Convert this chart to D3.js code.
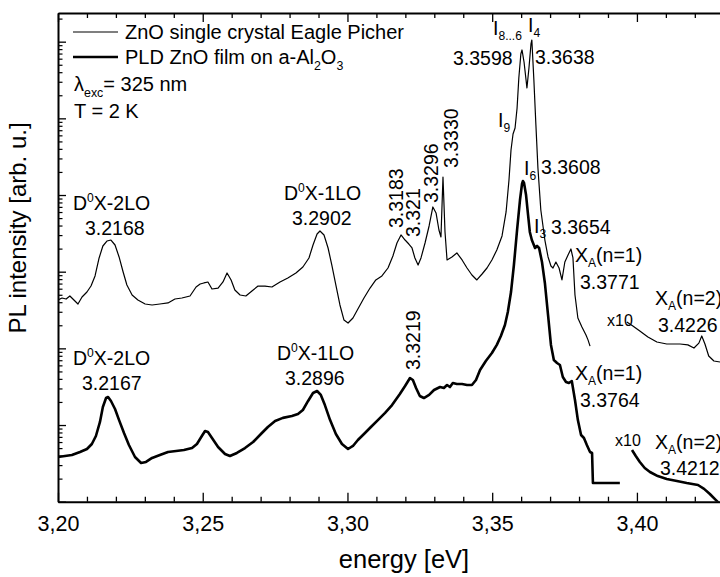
<!DOCTYPE html>
<html><head><meta charset="utf-8">
<script src="https://cdn.jsdelivr.net/npm/d3@7/dist/d3.min.js"></script>
<style>html,body{margin:0;padding:0;background:#fff}svg{display:block}text{font-family:'Liberation Sans',Arial,Helvetica,sans-serif;fill:#000}</style>
</head><body><svg id="c" width="720" height="577"></svg>
<script>
// ---- data: [energy eV, PL intensity arb.u.] ----
const singleCrystal = [[3.2000,428],[3.2014,454],[3.2028,440],[3.2041,482],[3.2069,379],[3.2083,468],[3.2100,543],[3.2114,650],[3.2128,879],[3.2142,1510],[3.2155,2163],[3.2169,2512],[3.2183,2588],[3.2197,2229],[3.2211,1556],[3.2225,991],[3.2238,670],[3.2256,497],[3.2276,428],[3.2301,379],[3.2325,368],[3.2352,379],[3.2380,391],[3.2404,440],[3.2428,454],[3.2456,482],[3.2477,631],[3.2491,690],[3.2504,713],[3.2518,734],[3.2532,594],[3.2553,612],[3.2570,734],[3.2584,962],[3.2598,780],[3.2611,577],[3.2629,497],[3.2649,482],[3.2670,560],[3.2691,650],[3.2715,650],[3.2739,631],[3.2767,734],[3.2794,828],[3.2822,962],[3.2846,1151],[3.2867,1510],[3.2881,2229],[3.2895,3105],[3.2905,3396],[3.2919,3013],[3.2933,2037],[3.2946,1222],[3.2960,670],[3.2974,368],[3.2988,234],[3.3002,214],[3.3019,249],[3.3036,326],[3.3057,454],[3.3078,612],[3.3098,780],[3.3119,879],[3.3140,1117],[3.3157,1603],[3.3171,2366],[3.3185,3013],[3.3199,2588],[3.3212,2296],[3.3223,2037],[3.3233,1510],[3.3244,1222],[3.3254,1510],[3.3268,2366],[3.3282,3945],[3.3295,6982],[3.3306,5834],[3.3316,3499],[3.3323,2834],[3.3330,17180],[3.3337,3296],[3.3344,1422],[3.3361,1556],[3.3378,1754],[3.3396,1422],[3.3413,1117],[3.3430,906],[3.3447,780],[3.3465,933],[3.3482,1117],[3.3499,1422],[3.3516,1919],[3.3534,2924],[3.3548,6012],[3.3558,15700],[3.3565,38640],[3.3572,62520],[3.3579,74820],[3.3586,136500],[3.3592,335700],[3.3599,690600],[3.3603,779800],[3.3610,543300],[3.3617,316200],[3.3620,248900],[3.3627,453900],[3.3634,933300],[3.3637,1052000],[3.3644,316200],[3.3651,81850],[3.3658,22510],[3.3668,6383],[3.3682,2588],[3.3693,1556],[3.3703,1186],[3.3710,1117],[3.3720,1337],[3.3731,1117],[3.3741,780],[3.3751,1337],[3.3762,1651],[3.3772,1977],[3.3779,1510],[3.3786,497],[3.3796,249],[3.3810,190],[3.3824,149],[3.3831,129],[3.3838,107]];
const singleCrystalX10 = [[3.3965,221],[3.3986,196],[3.4010,168],[3.4038,141],[3.4069,121],[3.4103,114],[3.4149,114],[3.4176,111],[3.4197,101],[3.4214,117],[3.4224,145],[3.4235,114],[3.4248,79.5],[3.4266,68.4],[3.4287,66.4]];
const pldFilm = [[3.2000,3.83],[3.2024,3.94],[3.2048,4.06],[3.2076,4.45],[3.2100,4.87],[3.2117,5.66],[3.2131,7.19],[3.2145,10.96],[3.2155,17.2],[3.2166,22.5],[3.2173,23.2],[3.2183,20.6],[3.2197,16.2],[3.2211,11.6],[3.2228,7.87],[3.2245,5.49],[3.2266,3.83],[3.2287,3.20],[3.2304,3.30],[3.2325,3.72],[3.2352,4.06],[3.2380,4.45],[3.2408,4.58],[3.2435,4.72],[3.2463,5.01],[3.2480,5.66],[3.2497,7.19],[3.2508,8.36],[3.2518,8.11],[3.2532,6.77],[3.2553,5.17],[3.2577,4.19],[3.2594,3.94],[3.2618,4.32],[3.2646,5.01],[3.2674,6.01],[3.2701,7.64],[3.2725,9.42],[3.2750,11.3],[3.2777,12.4],[3.2808,13.1],[3.2829,13.9],[3.2846,15.7],[3.2864,20.6],[3.2881,26.2],[3.2895,27.8],[3.2908,24.7],[3.2922,18.2],[3.2940,11.6],[3.2960,7.64],[3.2981,5.66],[3.3002,4.87],[3.3019,5.33],[3.3036,6.38],[3.3057,7.64],[3.3081,9.42],[3.3105,11.6],[3.3130,14.4],[3.3154,18.2],[3.3181,25.4],[3.3199,32.3],[3.3216,41.0],[3.3226,38.7],[3.3237,30.4],[3.3250,23.9],[3.3264,22.5],[3.3282,24.7],[3.3299,28.6],[3.3320,31.3],[3.3333,30.4],[3.3344,33.3],[3.3354,31.3],[3.3364,35.3],[3.3378,34.3],[3.3396,34.3],[3.3413,33.3],[3.3430,33.3],[3.3444,38.7],[3.3458,52.2],[3.3478,68.4],[3.3499,87.0],[3.3516,111],[3.3530,145],[3.3544,202],[3.3554,298],[3.3565,543],[3.3575,1222],[3.3586,3499],[3.3596,8610],[3.3603,13930],[3.3606,15240],[3.3610,14350],[3.3617,10000],[3.3624,5483],[3.3630,3296],[3.3637,2588],[3.3648,2037],[3.3655,2163],[3.3662,2037],[3.3672,1337],[3.3682,713],[3.3693,272],[3.3703,111],[3.3713,70.5],[3.3724,64.4],[3.3734,60.7],[3.3744,42.3],[3.3755,36.4],[3.3765,35.3],[3.3775,37.5],[3.3786,21.2],[3.3796,11.6],[3.3807,7.41],[3.3817,6.77],[3.3827,5.49],[3.3838,4.45],[3.3845,4.32],[3.3848,1.75],[3.3941,1.75]];
const pldFilmX10 = [[3.3983,4.72],[3.3996,3.94],[3.4010,3.30],[3.4027,2.75],[3.4045,2.44],[3.4072,2.16],[3.4103,1.98],[3.4138,1.86],[3.4172,1.75],[3.4211,1.65],[3.4232,1.47],[3.4252,1.26],[3.4273,1.05],[3.4287,0.93]];

const xMajorTicks = [3.20, 3.25, 3.30, 3.35, 3.40];
const xTickLabels = ["3,20", "3,25", "3,30", "3,35", "3,40"];
const xMinorTicks = [3.21,3.22,3.23,3.24,3.26,3.27,3.28,3.29,3.31,3.32,3.33,3.34,3.36,3.37,3.38,3.39,3.41,3.42];
const yDecades = [1, 10, 100, 1e3, 1e4, 1e5, 1e6, 1e7];
const xDomain = [3.20, 3.4287];
const yDomain = [1, 2.366e6];

(function () {
const svg = d3.select('#c');
const mL = 58, mT = 13, mB = 501.7, mR = 720;
const x = d3.scaleLinear().domain(xDomain).range([mL, mR]);
const y = d3.scaleLog().domain(yDomain).range([mB, mT]);

const yMinor = [];
yDecades.forEach(d => { for (let k = 2; k <= 9; k++) { const v = d * k; if (v > yDomain[0] && v < yDomain[1]) yMinor.push(v); } });
const yMajor = yDecades.filter(v => v >= yDomain[0] && v <= yDomain[1]);

svg.append('defs').append('clipPath').attr('id', 'pc').append('rect')
  .attr('x', mL).attr('y', mT).attr('width', mR - mL).attr('height', mB - mT);

const line = d3.line().x(d => x(d[0])).y(d => y(d[1]));
const plot = svg.append('g').attr('clip-path', 'url(#pc)');
[[singleCrystal, 1.2], [singleCrystalX10, 1.2], [pldFilm, 2.6], [pldFilmX10, 2.6]].forEach(([d, w]) => {
  plot.append('path').datum(d).attr('d', line).attr('fill', 'none').attr('stroke', '#000')
    .attr('stroke-width', w).attr('stroke-linejoin', 'round');
});

function styleAxis(g, w) {
  g.select('.domain').attr('stroke-width', w);
  g.selectAll('.tick line').attr('stroke-width', 1.3);
}
const fmt = v => xTickLabels[xMajorTicks.indexOf(v)];
const gb = svg.append('g').attr('transform', `translate(0,${mB})`)
  .call(d3.axisBottom(x).tickValues(xMajorTicks).tickSize(-9).tickSizeOuter(0).tickPadding(14).tickFormat(fmt));
styleAxis(gb, 2);
gb.selectAll('text').attr('font-size', 21.5).attr('font-family', "'Liberation Sans',Arial,sans-serif");
svg.append('g').attr('transform', `translate(0,${mB})`)
  .call(d3.axisBottom(x).tickValues(xMinorTicks).tickSize(-5).tickSizeOuter(0).tickFormat(''))
  .call(g => { g.select('.domain').remove(); g.selectAll('.tick line').attr('stroke-width', 1.3); });
const gt = svg.append('g').attr('transform', `translate(0,${mT})`)
  .call(d3.axisTop(x).tickValues(xMajorTicks).tickSize(-9).tickSizeOuter(0).tickFormat(''));
styleAxis(gt, 2);
svg.append('g').attr('transform', `translate(0,${mT})`)
  .call(d3.axisTop(x).tickValues(xMinorTicks).tickSize(-5).tickSizeOuter(0).tickFormat(''))
  .call(g => { g.select('.domain').remove(); g.selectAll('.tick line').attr('stroke-width', 1.3); });
const gl = svg.append('g').attr('transform', `translate(${mL},0)`)
  .call(d3.axisLeft(y).tickValues(yMajor).tickSize(-8).tickSizeOuter(0).tickFormat(''));
styleAxis(gl, 2);
svg.append('g').attr('transform', `translate(${mL},0)`)
  .call(d3.axisLeft(y).tickValues(yMinor).tickSize(-4.5).tickSizeOuter(0).tickFormat(''))
  .call(g => { g.select('.domain').remove(); g.selectAll('.tick line').attr('stroke-width', 1.2); });

svg.append('text').attr('x', 404).attr('y', 568).attr('text-anchor', 'middle').attr('font-size', 25.5).text('energy [eV]');
svg.append('text').attr('transform', 'translate(26,228) rotate(-90)').attr('text-anchor', 'middle').attr('font-size', 24).text('PL intensity [arb. u.]');

function rich(g, px, py, segs, fs, rot) {
  const t = g.append('text').attr('font-size', fs);
  if (rot) t.attr('transform', `translate(${px},${py}) rotate(-90)`); else t.attr('x', px).attr('y', py);
  let cur = 0;
  segs.forEach(s => {
    let txt, off = 0, small = false;
    if (typeof s === 'string') txt = s;
    else if (s.sup != null) { txt = s.sup; off = -0.42 * fs; small = true; }
    else { txt = s.sub; off = 0.28 * fs; small = true; }
    const sp = t.append('tspan').text(txt).attr('dy', off - cur);
    if (small) sp.attr('font-size', fs * 0.62);
    cur = off;
  });
  return t;
}

const lg = svg.append('g');
lg.append('line').attr('x1', 73).attr('x2', 118).attr('y1', 32).attr('y2', 32).attr('stroke', '#000').attr('stroke-width', 1.2);
lg.append('line').attr('x1', 73).attr('x2', 118).attr('y1', 57).attr('y2', 57).attr('stroke', '#000').attr('stroke-width', 2.6);
rich(lg, 125, 39, ['ZnO single crystal Eagle Picher'], 20);
rich(lg, 125, 64, ['PLD ZnO film on a-Al', {sub: '2'}, 'O', {sub: '3'}], 20);
rich(lg, 74, 91, ['\u03bb', {sub: 'exc'}, '= 325 nm'], 20);
rich(lg, 74, 118, ['T = 2 K'], 20);

const ann = svg.append('g');
const F = 19.5;
const annotations = [
  [73, 210, ['D', {sup: '0'}, 'X-2LO']], [85, 235, ['3.2168']],
  [284, 200, ['D', {sup: '0'}, 'X-1LO']], [292, 225, ['3.2902']],
  [493, 35, ['I', {sub: '8...6'}]], [528, 32, ['I', {sub: '4'}]],
  [453, 65, ['3.3598']], [535, 64, ['3.3638']],
  [498, 127, ['I', {sub: '9'}]],
  [524, 175, ['I', {sub: '6'}]], [541, 174, ['3.3608']],
  [534, 233, ['I', {sub: '3'}]], [551, 234, ['3.3654']],
  [575, 262, ['X', {sub: 'A'}, '(n=1)']], [580, 289, ['3.3771']],
  [655, 305, ['X', {sub: 'A'}, '(n=2)']], [658, 332, ['3.4226']],
  [73, 365, ['D', {sup: '0'}, 'X-2LO']], [82, 390, ['3.2167']],
  [277, 360, ['D', {sup: '0'}, 'X-1LO']], [285, 385, ['3.2896']],
  [575, 380, ['X', {sub: 'A'}, '(n=1)']], [580, 407, ['3.3764']],
  [655, 449, ['X', {sub: 'A'}, '(n=2)']], [660, 475, ['3.4212']]
];
annotations.forEach(a => rich(ann, a[0], a[1], a[2], F));
const rotated = [[403, 228, '3.3183'], [420, 237, '3.321'], [438, 203, '3.3296'], [458, 168, '3.3330'], [420, 370, '3.3219']];
rotated.forEach(a => rich(ann, a[0], a[1], [a[2]], F, true));
rich(ann, 607, 326, ['x10'], 16);
rich(ann, 615, 446, ['x10'], 16);
})();
</script></body></html>
